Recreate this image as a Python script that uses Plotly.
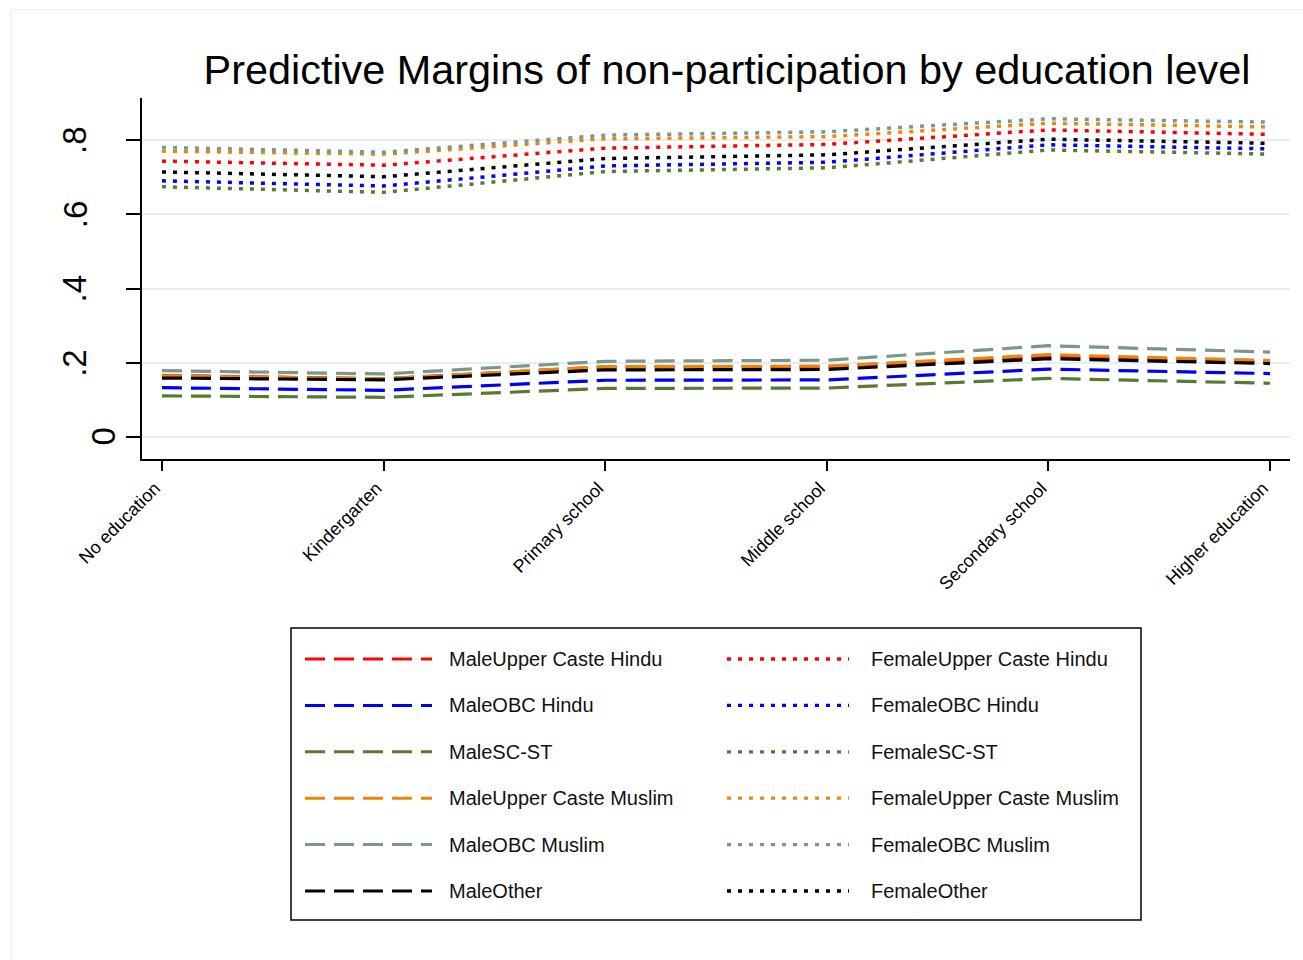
import plotly.graph_objects as go

# ---------------- data ----------------
levels = ["No education", "Kindergarten", "Primary school", "Middle school",
          "Secondary school", "Higher education"]

groups = ["Upper Caste Hindu", "OBC Hindu", "SC-ST", "Upper Caste Muslim",
          "OBC Muslim", "Other"]

male_upper_caste_hindu = [0.166, 0.157, 0.189, 0.190, 0.217, 0.202]
male_obc_hindu = [0.133, 0.126, 0.153, 0.154, 0.183, 0.171]
male_sc_st = [0.111, 0.107, 0.131, 0.132, 0.158, 0.145]
male_upper_caste_muslim = [0.165, 0.157, 0.190, 0.191, 0.222, 0.206]
male_obc_muslim = [0.179, 0.170, 0.204, 0.207, 0.246, 0.229]
male_other = [0.159, 0.154, 0.181, 0.182, 0.211, 0.198]

female_upper_caste_hindu = [0.743, 0.732, 0.778, 0.788, 0.827, 0.815]
female_obc_hindu = [0.690, 0.676, 0.730, 0.740, 0.787, 0.776]
female_sc_st = [0.674, 0.659, 0.715, 0.725, 0.773, 0.762]
female_upper_caste_muslim = [0.770, 0.762, 0.803, 0.809, 0.845, 0.835]
female_obc_muslim = [0.780, 0.767, 0.813, 0.822, 0.857, 0.848]
female_other = [0.714, 0.701, 0.750, 0.760, 0.802, 0.791]

male_series = [male_upper_caste_hindu, male_obc_hindu, male_sc_st,
               male_upper_caste_muslim, male_obc_muslim, male_other]
female_series = [female_upper_caste_hindu, female_obc_hindu, female_sc_st,
                 female_upper_caste_muslim, female_obc_muslim, female_other]

y_tickvals = [0, 0.2, 0.4, 0.6, 0.8]
y_ticktext = ["0", ".2", ".4", ".6", ".8"]

# ---------------- styles ----------------
colors = ["#ff0000", "#0000ff", "#587a30", "#e8870c", "#7a968f", "#000000"]
DASH_M = "20px,9px"
DASH_F = "4px,7px"
FONT = "Liberation Sans, Arial, sans-serif"

W, H = 1303, 960
def fx(x):
    return x / W
def fy(y):
    return 1 - y / H

xs = list(range(len(levels)))

fig = go.Figure()
for i, g in enumerate(groups):
    fig.add_trace(go.Scatter(
        x=xs, y=male_series[i], mode="lines", name="Male" + g,
        line=dict(color=colors[i], width=3.2, dash=DASH_M), showlegend=False))
    fig.add_trace(go.Scatter(
        x=xs, y=female_series[i], mode="lines", name="Female" + g,
        line=dict(color=colors[i], width=3.5, dash=DASH_F), showlegend=False))

shapes = []
annotations = []

# outer faint frame
shapes.append(dict(type="rect", xref="paper", yref="paper",
                   x0=fx(11), x1=fx(1320), y0=fy(975), y1=fy(9.5),
                   line=dict(color="#e8eeee", width=1.2), layer="below"))

# y tick labels (rotated, Stata-style placement)
for v, t in zip(y_tickvals, y_ticktext):
    annotations.append(dict(xref="paper", yref="y", x=fx(103.5 if len(t) == 1 else 75),
                            y=v, xanchor="center", yanchor="middle",
                            showarrow=False, text=t, textangle=-90,
                            font=dict(family=FONT, size=33, color="#000000")))

# legend box
shapes.append(dict(type="rect", xref="paper", yref="paper",
                   x0=fx(291), x1=fx(1141), y0=fy(920), y1=fy(628),
                   line=dict(color="#000000", width=1.5)))
for i, g in enumerate(groups):
    yy = 659 + 46.4 * i
    shapes.append(dict(type="line", xref="paper", yref="paper",
                       x0=fx(305), x1=fx(432), y0=fy(yy), y1=fy(yy),
                       line=dict(color=colors[i], width=3, dash=DASH_M)))
    shapes.append(dict(type="line", xref="paper", yref="paper",
                       x0=fx(727), x1=fx(849), y0=fy(yy), y1=fy(yy),
                       line=dict(color=colors[i], width=3.3, dash=DASH_F)))
    annotations.append(dict(xref="paper", yref="paper", x=fx(447), y=fy(yy),
                            xanchor="left", yanchor="middle", showarrow=False,
                            text="Male" + g,
                            font=dict(family=FONT, size=20, color="#111111")))
    annotations.append(dict(xref="paper", yref="paper", x=fx(869), y=fy(yy),
                            xanchor="left", yanchor="middle", showarrow=False,
                            text="Female" + g,
                            font=dict(family=FONT, size=20, color="#111111")))

fig.update_layout(
    width=W, height=H,
    margin=dict(l=0, r=0, t=0, b=0),
    paper_bgcolor="white", plot_bgcolor="white",
    title=dict(text="Predictive Margins of non-participation by education level",
               x=fx(727), xanchor="center", y=fy(70), yanchor="middle",
               xref="paper", yref="paper",
               font=dict(family=FONT, size=41.4, color="#000000")),
    shapes=shapes, annotations=annotations,
    xaxis=dict(domain=[fx(142), fx(1290)], range=[-0.09, 5.09],
               tickvals=xs, ticktext=levels, tickangle=-45,
               ticklabelshift=-7,
               ticks="outside", ticklen=10, tickwidth=1.5, tickcolor="black",
               showline=True, linecolor="black", linewidth=1.5,
               showgrid=False, zeroline=False, automargin=False,
               tickfont=dict(family=FONT, size=18, color="#000000")),
    yaxis=dict(domain=[fy(459), fy(98)], range=[-0.059, 0.913],
               tickvals=y_tickvals, showticklabels=False,
               ticks="outside", ticklen=14, tickwidth=1.5, tickcolor="black",
               showline=True, linecolor="black", linewidth=1.5,
               showgrid=True, gridcolor="#e6eef0", gridwidth=2,
               zeroline=False, automargin=False),
)

fig.write_html("out.html",
               config={"displayModeBar": False},
               post_script="document.body.style.margin='0px';document.body.style.overflow='hidden';")
